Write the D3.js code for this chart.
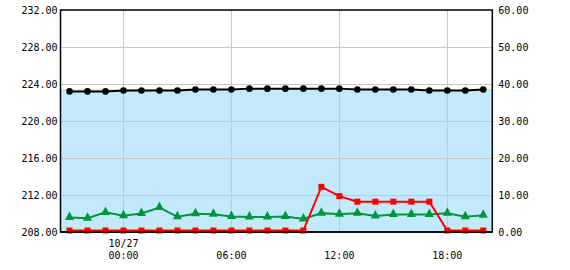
<!DOCTYPE html>
<html>
<head>
<meta charset="utf-8">
<script src="https://cdn.jsdelivr.net/npm/d3@7"></script>
<style>
body { margin: 0; background: #fff; }
text { font-family: "DejaVu Sans Mono", monospace; font-size: 10px; fill: #000; }
</style>
</head>
<body>
<svg id="chart" width="570" height="270"></svg>
<script>
// hourly readings, 10/26 21:00 .. 10/27 20:00
var times = ["10/26 21:00", "10/26 22:00", "10/26 23:00", "10/27 00:00", "10/27 01:00", "10/27 02:00",
    "10/27 03:00", "10/27 04:00", "10/27 05:00", "10/27 06:00", "10/27 07:00", "10/27 08:00",
    "10/27 09:00", "10/27 10:00", "10/27 11:00", "10/27 12:00", "10/27 13:00", "10/27 14:00",
    "10/27 15:00", "10/27 16:00", "10/27 17:00", "10/27 18:00", "10/27 19:00", "10/27 20:00"];

// left axis (black)
var level = [223.2, 223.2, 223.2, 223.3, 223.3, 223.3, 223.3, 223.4, 223.4, 223.4, 223.5, 223.5,
    223.5, 223.5, 223.5, 223.5, 223.4, 223.4, 223.4, 223.4, 223.3, 223.3, 223.3, 223.4];
var fillLevel = [223.45];

// right axis (green, red)
var green = [3.9, 3.7, 5.3, 4.4, 5.0, 6.6, 4.1, 4.9, 4.8, 4.2, 4.05, 4.05,
    4.2, 3.5, 5.1, 4.8, 5.05, 4.3, 4.7, 4.7, 4.7, 5.05, 4.1, 4.5];
var red = [0.4, 0.4, 0.4, 0.4, 0.4, 0.4, 0.4, 0.4, 0.4, 0.4, 0.4, 0.4,
    0.4, 0.4, 12.2, 9.7, 8.2, 8.2, 8.2, 8.2, 8.2, 0.4, 0.4, 0.4];

var leftTicks = [208, 212, 216, 220, 224, 228, 232];
var rightTicks = [0, 10, 20, 30, 40, 50, 60];
var xDomain = ["10/26 20:30", "10/27 20:30"];
var xTicks = ["10/27 00:00", "10/27 06:00", "10/27 12:00", "10/27 18:00"];
var xTickLabels = [["10/27", "00:00"], ["", "06:00"], ["", "12:00"], ["", "18:00"]];

var parse = d3.timeParse("%m/%d %H:%M");
var pLeft = 60.5, pRight = 492.3, pTop = 10, pBottom = 232;

var svg = d3.select("#chart");

var x = d3.scaleTime().domain(xDomain.map(parse)).range([pLeft, pRight]);
var yL = d3.scaleLinear().domain([208, 232]).range([pBottom, pTop]);
var yR = d3.scaleLinear().domain([0, 60]).range([pBottom, pTop]);

//blue band
svg.append("rect")
    .attr("x", pLeft)
    .attr("y", yL(fillLevel[0]))
    .attr("width", pRight - pLeft)
    .attr("height", pBottom - yL(fillLevel[0]))
    .attr("fill", "#c3e9fd");

//grid
svg.append("g").selectAll("line")
    .data(leftTicks.slice(1, -1))
    .enter().append("line")
    .attr("x1", pLeft).attr("x2", pRight)
    .attr("y1", function (d) { return Math.round(yL(d)) + 0.5; })
    .attr("y2", function (d) { return Math.round(yL(d)) + 0.5; })
    .attr("stroke", "#c8c8c8");

svg.append("g").selectAll("line")
    .data(xTicks)
    .enter().append("line")
    .attr("x1", function (d) { return Math.round(x(parse(d))) + 0.5; })
    .attr("x2", function (d) { return Math.round(x(parse(d))) + 0.5; })
    .attr("y1", pTop).attr("y2", pBottom)
    .attr("stroke", "#c8c8c8");

//axes labels
var yAxisL = d3.axisLeft(yL).tickValues(leftTicks).tickSize(0).tickPadding(3).tickFormat(d3.format(".2f"));
svg.append("g").attr("transform", "translate(" + pLeft + ",0)").call(yAxisL)
    .call(function (g) { g.select(".domain").remove(); })
    .attr("font-family", null).attr("font-size", null);

var yAxisR = d3.axisRight(yR).tickValues(rightTicks).tickSize(0).tickPadding(6).tickFormat(d3.format(".2f"));
svg.append("g").attr("transform", "translate(" + pRight + ",0)").call(yAxisR)
    .call(function (g) { g.select(".domain").remove(); })
    .attr("font-family", null).attr("font-size", null);

var xl = svg.append("g").selectAll("g")
    .data(xTicks)
    .enter().append("g")
    .attr("transform", function (d) { return "translate(" + x(parse(d)) + ",0)"; });
xl.append("text").attr("y", 247).attr("text-anchor", "middle")
    .text(function (d, i) { return xTickLabels[i][0]; });
xl.append("text").attr("y", 258.5).attr("text-anchor", "middle")
    .text(function (d, i) { return xTickLabels[i][1]; });

//frame
svg.append("rect")
    .attr("x", pLeft).attr("y", pTop)
    .attr("width", pRight - pLeft).attr("height", pBottom - pTop)
    .attr("fill", "none").attr("stroke", "#000").attr("stroke-width", 1.5);

function drawLine(values, yScale, color) {
    var line = d3.line()
        .x(function (d, i) { return x(parse(times[i])); })
        .y(function (d) { return yScale(d); });
    svg.append("path")
        .datum(values)
        .attr("d", line)
        .attr("fill", "none")
        .attr("stroke", color)
        .attr("stroke-width", 2);
}

//green triangles
drawLine(green, yR, "#00963c");
svg.append("g").selectAll("path")
    .data(green)
    .enter().append("path")
    .attr("d", "M0,-6L4.5,2.5L-4.5,2.5Z")
    .attr("transform", function (d, i) { return "translate(" + x(parse(times[i])) + "," + yR(d) + ")"; })
    .attr("fill", "#00963c");

//red squares
drawLine(red, yR, "#ff0000");
svg.append("g").selectAll("rect")
    .data(red)
    .enter().append("rect")
    .attr("x", function (d, i) { return x(parse(times[i])) - 3; })
    .attr("y", function (d) { return yR(d) - 3; })
    .attr("width", 6).attr("height", 6)
    .attr("fill", "#ff0000");

//black circles
drawLine(level, yL, "#000");
svg.append("g").selectAll("circle")
    .data(level)
    .enter().append("circle")
    .attr("cx", function (d, i) { return x(parse(times[i])); })
    .attr("cy", function (d) { return yL(d); })
    .attr("r", 3.3)
    .attr("fill", "#000");

//keep red squares from spilling under the frame
svg.append("line")
    .attr("x1", pLeft).attr("x2", pRight)
    .attr("y1", pBottom).attr("y2", pBottom)
    .attr("stroke", "#000").attr("stroke-width", 1.5);
</script>
</body>
</html>
